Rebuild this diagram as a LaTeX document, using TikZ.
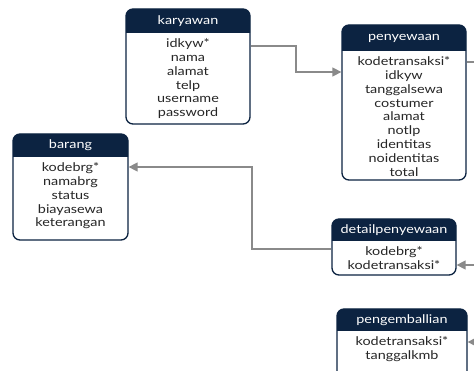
\documentclass[tikz,border=0pt]{standalone}
\usepackage{fontspec}
\setmainfont{Lato}[FakeStretch=1.2]
\usetikzlibrary{arrows.meta}
\definecolor{navy}{HTML}{0C2341}
\definecolor{conngray}{HTML}{8A8A8A}
\tikzset{
  hdrtext/.style={text=white, font=\fontsize{12}{14}\selectfont, inner sep=0pt, anchor=center},
  rowtext/.style={text=black!85, font=\fontsize{12}{13.8}\selectfont, align=center, inner sep=0pt, anchor=north},
  erframe/.style={draw=navy, line width=1.3pt, rounded corners=7pt, inner sep=0pt},
  connline/.style={draw=conngray, line width=1.4pt},
  connarrow/.style={connline, -{Triangle[length=9pt,width=9pt]}},
}
% name, x1, x2, ytop, yheader, ybottom, title, rows
\newcommand{\erbox}[8]{%
  \fill[navy] (#2,#5) [rounded corners=7pt] -- (#2,#4) -- (#3,#4) [sharp corners] -- (#3,#5) -- cycle;
  \node[erframe, minimum width={(#3-#2)*1pt}, minimum height={(#6-#4)*1pt}] (#1) at ({(#2+#3)/2},{(#4+#6)/2}) {};
  \node[hdrtext] (#1-h) at ({(#2+#3)/2},{(#4+#5)/2}) {#7};
  \node[rowtext] (#1-r) at ({(#2+#3)/2},{#5+5.5}) {#8};
}
\begin{document}
\begin{tikzpicture}[x=1pt,y=-1pt]
  \fill[white] (0,0) rectangle (474,371);
  \useasboundingbox (0,0) rectangle (474,371);
  \clip (0,0) rectangle (474,371);

  \erbox{karyawan}{126}{250}{9}{33}{124}{karyawan}{idkyw*\\nama\\alamat\\telp\\username\\password}
  \erbox{penyewaan}{342}{466}{25}{51}{180}{penyewaan}{kodetransaksi*\\idkyw\\tanggalsewa\\costumer\\alamat\\notlp\\identitas\\noidentitas\\total}
  \erbox{barang}{13}{128}{134}{157}{240}{barang}{kodebrg*\\namabrg\\status\\biayasewa\\keterangan}
  \erbox{detail}{332}{456}{219}{241}{275}{detailpenyewaan}{kodebrg*\\kodetransaksi*}
  \erbox{kembali}{337}{467}{309}{331}{390}{pengemballian}{kodetransaksi*\\tanggalkmb}

  \coordinate (off1) at (480,62);
  \coordinate (off2) at (480,265);
  \coordinate (off3) at (480,342);

  \draw[connarrow] (karyawan.east |- 0,46) -- (296,46) |- (penyewaan.west |- 0,72);
  \draw[connline] (penyewaan.east |- 0,62) -- (off1);
  \draw[connarrow] (detail.west |- 0,249) -- (252,249) |- (barang.east |- 0,167);
  \draw[connarrow] (off2) -- (detail.east |- 0,265);
  \draw[connarrow] (off3) -- (kembali.east |- 0,342);
\end{tikzpicture}
\end{document}
